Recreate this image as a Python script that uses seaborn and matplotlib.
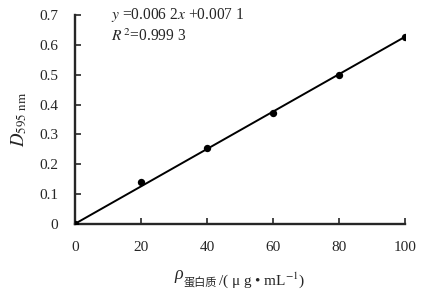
import numpy as np
import pandas as pd
import matplotlib
matplotlib.use("Agg")
import matplotlib.pyplot as plt
import seaborn as sns

# data
concentration = [0, 20, 40, 60, 80, 100]
absorbance = [0.0, 0.14, 0.255, 0.372, 0.50, 0.625]
slope = 0.0062
intercept = 0.0071
x_ticks = [0, 20, 40, 60, 80, 100]
y_ticks = [0, 0.1, 0.2, 0.3, 0.4, 0.5, 0.6, 0.7]

sns.set_style("ticks")
plt.rcParams["font.family"] = ["Liberation Serif", "Noto Sans CJK SC"]
plt.rcParams["mathtext.fontset"] = "stix"

df = pd.DataFrame({"x": concentration, "y": absorbance})
fit = pd.DataFrame({"x": [min(concentration), max(concentration)]})
fit["y"] = slope * fit["x"] + intercept
fit.loc[0, "y"] = max(fit.loc[0, "y"] - intercept, 0)  # line starts at origin

fig = plt.figure(figsize=(4.25, 2.95), dpi=100)
ax = fig.add_axes([0.176, 0.241, 0.777, 0.708])

sns.lineplot(data=fit, x="x", y="y", ax=ax, color="black", linewidth=1.4)
sns.scatterplot(data=df, x="x", y="y", ax=ax, color="black", s=28,
                edgecolor="black", linewidth=0, zorder=3)

ax.set_xlim(0, 100)
ax.set_ylim(0, 0.7)
ax.set_xticks(x_ticks)
ax.set_yticks(y_ticks)
ax.set_xticklabels([str(v) for v in x_ticks])
ax.set_yticklabels(["0"] + [f"{v:.1f}" for v in y_ticks[1:]])
ax.tick_params(direction="in", length=4, width=1.2, labelsize=11)
ax.tick_params(axis="y", pad=12)
ax.tick_params(axis="x", pad=12)
for s in ["left", "bottom"]:
    ax.spines[s].set_linewidth(1.7)
sns.despine(ax=ax)
for sp in ax.spines.values():
    sp.set_clip_on(False)

ax.set_xlabel("")
ax.set_ylabel(r"$\mathit{D}_{\mathrm{595\ nm}}$", fontsize=13.5, labelpad=7)

# equation text
ax.text(0.11, 1.0, r"$\mathit{y}$ =0.006 2$\mathit{x}$ +0.007 1",
        transform=ax.transAxes, fontsize=11.2, va="center", ha="left")
ax.text(0.11, 0.895, r"$\mathit{R}^{\,2}$=0.999 3",
        transform=ax.transAxes, fontsize=11.2, va="center", ha="left")

# x label: rho with chinese subscript
t1 = fig.text(0.41, 0.055, "ρ", fontsize=13, va="baseline", ha="left",
              style="italic")
t2 = ax.annotate("蛋白质", xy=(1, 0), xycoords=t1, xytext=(0.5, -2.5),
                 textcoords="offset points", fontsize=8, va="baseline",
                 ha="left", family=["Noto Sans CJK SC"],
                 annotation_clip=False)
t3 = ax.annotate("/( μ g • mL$^{-1}$)", xy=(1, 0), xycoords=t2,
                 xytext=(0.5, 2.5), textcoords="offset points", fontsize=11,
                 va="baseline", ha="left", annotation_clip=False)

fig.savefig("out.png", dpi=100)
